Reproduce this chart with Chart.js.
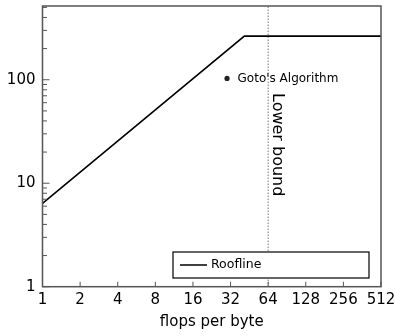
<!DOCTYPE html>
<html>
<head>
<title>Roofline</title>
<script src="https://cdn.jsdelivr.net/npm/chart.js"></script>
<style>
    body { margin: 0; background: #fff; }
</style>
</head>
<body>
<canvas id="roof" width="396" height="336"></canvas>
<script>
    // data
    const xTicks = [1, 2, 4, 8, 16, 32, 64, 128, 256, 512];
    const yTicks = [1, 10, 100];
    const roofX = [1, 41.25, 512];
    const roofY = [6.4, 264, 264];
    const gotoX = [30];
    const gotoY = [103];
    const boundX = [64, 64];
    const boundY = [1, 516];

    const FONT = "'DejaVu Sans', sans-serif";
    const yMax = 516;

    // minor ticks 2..9 in each decade
    const yMinor = [];
    yTicks.forEach(d => {
        for (let m = 1; m <= 9; m++) if (d * m <= yMax) yMinor.push(d * m);
    });

    const frame = {
        id: 'frame',
        afterDatasetsDraw(chart) {
            const { ctx, chartArea: a, scales: { x, y } } = chart;
            ctx.save();
            // inward tick marks
            ctx.strokeStyle = '#555';
            ctx.lineWidth = 1;
            ctx.beginPath();
            xTicks.forEach(v => {
                const px = x.getPixelForValue(v);
                ctx.moveTo(px, a.bottom);
                ctx.lineTo(px, a.bottom - 5);
            });
            yMinor.forEach(v => {
                const py = y.getPixelForValue(v);
                const len = yTicks.includes(v) ? 7 : 4.5;
                ctx.moveTo(a.left, py);
                ctx.lineTo(a.left + len, py);
            });
            ctx.stroke();
            // box
            ctx.lineWidth = 1.5;
            ctx.strokeRect(a.left, a.top, a.right - a.left, a.bottom - a.top);

            // point label
            ctx.fillStyle = '#000';
            ctx.font = '12px ' + FONT;
            ctx.textBaseline = 'middle';
            ctx.textAlign = 'left';
            ctx.fillText("Goto's Algorithm", x.getPixelForValue(gotoX[0]) + 10.5, y.getPixelForValue(gotoY[0]));

            // lower bound label
            ctx.save();
            ctx.translate(x.getPixelForValue(boundX[0]) + 5, a.top + 87);
            ctx.rotate(Math.PI / 2);
            ctx.font = '16px ' + FONT;
            ctx.textBaseline = 'alphabetic';
            ctx.fillText('Lower bound', 0, 0);
            ctx.restore();

            // legend box
            const lx = a.left + 130.5, ly = a.bottom - 34.7;
            const lw = a.right - 12 - lx, lh = 26;
            ctx.fillStyle = '#fff';
            ctx.fillRect(lx, ly, lw, lh);
            ctx.strokeStyle = '#000';
            ctx.lineWidth = 1.2;
            ctx.strokeRect(lx, ly, lw, lh);
            ctx.lineWidth = 1.5;
            ctx.beginPath();
            ctx.moveTo(lx + 7, ly + lh / 2);
            ctx.lineTo(lx + 34, ly + lh / 2);
            ctx.stroke();
            ctx.fillStyle = '#000';
            ctx.font = '12.5px ' + FONT;
            ctx.fillText('Roofline', lx + 38, ly + lh / 2);
            ctx.restore();
        }
    };

    const tickFont = { family: FONT, size: 15 };

    new Chart(document.getElementById('roof'), {
        type: 'scatter',
        data: {
            datasets: [
                {
                    label: 'Roofline',
                    data: roofX.map((v, i) => ({ x: v, y: roofY[i] })),
                    showLine: true,
                    borderColor: '#000',
                    borderWidth: 1.6,
                    pointRadius: 0
                },
                {
                    label: "Goto's Algorithm",
                    data: gotoX.map((v, i) => ({ x: v, y: gotoY[i] })),
                    pointRadius: 2.6,
                    backgroundColor: '#222',
                    borderWidth: 0
                },
                {
                    label: 'Lower bound',
                    data: boundX.map((v, i) => ({ x: v, y: boundY[i] })),
                    showLine: true,
                    borderColor: '#333',
                    borderWidth: 1,
                    borderDash: [1, 2],
                    pointRadius: 0
                }
            ]
        },
        options: {
            responsive: false,
            animation: false,
            devicePixelRatio: 1,
            layout: { padding: { top: 6, right: 15, left: 0, bottom: 0 } },
            plugins: {
                legend: { display: false },
                tooltip: { enabled: false }
            },
            scales: {
                x: {
                    type: 'logarithmic',
                    min: 1,
                    max: 512,
                    afterBuildTicks: s => { s.ticks = xTicks.map(v => ({ value: v })); },
                    afterFit: s => { s.height = 49.3; s.paddingLeft = 0; s.paddingRight = 0; },
                    grid: { display: false, drawTicks: false },
                    border: { display: false },
                    ticks: {
                        callback: v => String(v),
                        autoSkip: false,
                        maxRotation: 0,
                        padding: 4,
                        color: '#000',
                        font: tickFont
                    },
                    title: {
                        display: true,
                        text: 'flops per byte',
                        color: '#000',
                        font: { family: FONT, size: 15 },
                        padding: { top: 0, bottom: 5 }
                    }
                },
                y: {
                    type: 'logarithmic',
                    min: 1,
                    max: yMax,
                    afterBuildTicks: s => { s.ticks = yTicks.map(v => ({ value: v })); },
                    afterFit: s => { s.width = 42.5; s.paddingTop = 0; s.paddingBottom = 0; },
                    grid: { display: false, drawTicks: false },
                    border: { display: false },
                    ticks: {
                        callback: v => String(v),
                        padding: 7,
                        color: '#000',
                        font: tickFont
                    }
                }
            }
        },
        plugins: [frame]
    });
</script>
</body>
</html>
